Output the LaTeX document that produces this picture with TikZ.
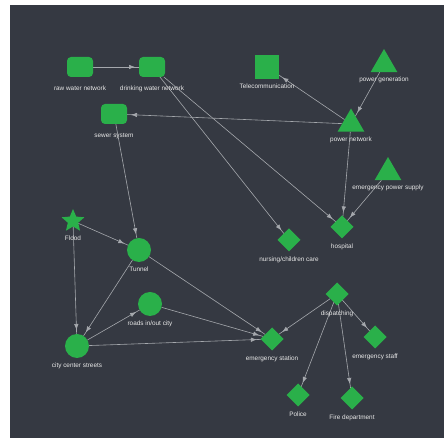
\documentclass[tikz,border=0pt]{standalone}
\usepackage{fontspec}
\setmainfont{Liberation Sans}
\usetikzlibrary{shapes.geometric, arrows.meta, decorations.markings, positioning}
\definecolor{bgdark}{RGB}{53,57,66}
\definecolor{nodegreen}{RGB}{42,176,74}
\definecolor{edgegray}{RGB}{165,168,173}
\definecolor{labelgray}{RGB}{232,232,232}
\pgfdeclarelayer{bg}
\pgfdeclarelayer{edgelayer}
\pgfsetlayers{bg,edgelayer,main}
\begin{document}
\begin{tikzpicture}[x=1pt, y=1pt, node distance=5pt,
  lbl/.style={font=\fontsize{6.4}{7}\selectfont, text=labelgray, inner sep=0pt, outer sep=0pt},
  sbox/.style={rectangle, rounded corners=4pt, fill=nodegreen, minimum width=26pt, minimum height=20pt, inner sep=0pt, outer sep=0pt},
  sqbox/.style={rectangle, fill=nodegreen, minimum size=24pt, inner sep=0pt, outer sep=0pt},
  tri/.style={regular polygon, regular polygon sides=3, fill=nodegreen, minimum size=31pt, inner sep=0pt, outer sep=0pt},
  dia/.style={diamond, aspect=1, fill=nodegreen, minimum size=23pt, inner sep=0pt, outer sep=0pt},
  circ/.style={circle, fill=nodegreen, minimum size=24pt, inner sep=0pt, outer sep=0pt},
  flood/.style={star, star points=5, star point ratio=2.2, fill=nodegreen, minimum size=24pt, inner sep=0pt, outer sep=0pt},
  edge/.style={draw=edgegray, line width=0.6pt, postaction={decorate},
    decoration={markings, mark=at position -4pt with {\arrow[edgegray]{Latex[length=6pt, width=4.5pt]}}}}]
\useasboundingbox (0,0) rectangle (444,438);
\begin{pgfonlayer}{bg}
\fill[white] (0,0) rectangle (444,438);
\fill[bgdark] (10,0) rectangle (444,433);
\end{pgfonlayer}
% water
\node[sbox] (rawwater) at (80,371) {};
\node[sbox] (drinkwater) at (152,371) {};
\node[sbox] (sewer) at (114,324) {};
\node[lbl, below=9pt of rawwater] (rawwaterlbl) {raw water network};
\node[lbl, below=9pt of drinkwater] (drinkwaterlbl) {drinking water network};
\node[lbl, below=9pt of sewer] (sewerlbl) {sewer system};
% power and telecom
\node[sqbox] (telecom) at (267,371) {};
\node[tri] (powergen) at (384,373.5) {};
\node[tri] (powernet) at (351,314) {};
\node[tri] (emsupply) at (388,265.5) {};
\node[dia] (hospital) at (342,211) {};
\node[dia] (nursing) at (289,198) {};
\node[lbl, below=of telecom] (telecomlbl) {Telecommunication};
\node[lbl, below=of powergen] (powergenlbl) {power generation};
\node[lbl, below=of powernet] (powernetlbl) {power network};
\node[lbl, below=of emsupply] (emsupplylbl) {emergency power supply};
\node[lbl, below=of hospital] (hospitallbl) {hospital};
\node[lbl, below=of nursing] (nursinglbl) {nursing/children care};
% streets
\node[flood] (flood) at (73,217) {};
\node[circ] (tunnel) at (139,188) {};
\node[circ] (roads) at (150,134) {};
\node[circ] (city) at (77,92) {};
\node[lbl, below=9pt of flood] (floodlbl) {Flood};
\node[lbl, below=of tunnel] (tunnellbl) {Tunnel};
\node[lbl, below=of roads] (roadslbl) {roads in/out city};
\node[lbl, below=of city] (citylbl) {city center streets};
% emergency
\node[dia] (dispatch) at (337,144) {};
\node[dia] (station) at (272,99) {};
\node[dia] (staff) at (375,101) {};
\node[dia] (police) at (298,43) {};
\node[dia] (fire) at (352,40) {};
\node[lbl, below=of dispatch] (dispatchlbl) {dispatching};
\node[lbl, below=of station] (stationlbl) {emergency station};
\node[lbl, below=of staff] (stafflbl) {emergency staff};
\node[lbl, below=of police] (policelbl) {Police};
\node[lbl, below=of fire] (firelbl) {Fire department};
\begin{pgfonlayer}{edgelayer}
\draw[edge] (rawwater) -- (drinkwater);
\draw[edge] (drinkwater) -- (nursing);
\draw[edge] (drinkwater) -- (hospital);
\draw[edge] (powernet) -- (sewer);
\draw[edge] (powernet) -- (telecom);
\draw[edge] (powergen) -- (powernet);
\draw[edge] (powernet) -- (hospital);
\draw[edge] (emsupply) -- (hospital);
\draw[edge] (sewer) -- (tunnel);
\draw[edge] (flood) -- (tunnel);
\draw[edge] (flood) -- (city);
\draw[edge] (tunnel) -- (city);
\draw[edge] (city) -- (roads);
\draw[edge] (tunnel) -- (station);
\draw[edge] (roads) -- (station);
\draw[edge] (city) -- (station);
\draw[edge] (dispatch) -- (station);
\draw[edge] (dispatch) -- (staff);
\draw[edge] (dispatch) -- (police);
\draw[edge] (dispatch) -- (fire);
\end{pgfonlayer}
\end{tikzpicture}
\end{document}
